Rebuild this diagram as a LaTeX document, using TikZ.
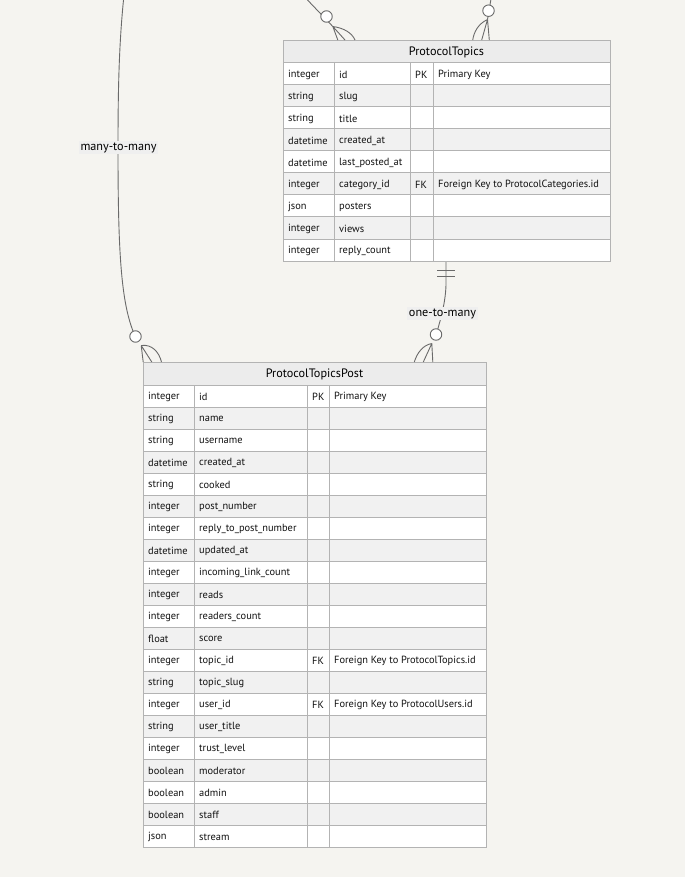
\documentclass[tikz,border=0pt]{standalone}
\usepackage{fontspec}
\setmainfont{PT Sans}
\definecolor{bg}{HTML}{F5F4F0}
\definecolor{hdr}{HTML}{ECECEC}
\definecolor{rowgray}{HTML}{F1F1F1}
\definecolor{bord}{HTML}{B3B3B3}
\definecolor{edge}{HTML}{6A6A6A}
\definecolor{lblfill}{HTML}{EFEFEF}
\definecolor{txt}{HTML}{111111}
\tikzset{
 edgeline/.style={draw=edge, line width=0.9pt},
 zcirc/.style={circle, draw=edge, fill=white, line width=0.9pt, minimum size=11.5pt, inner sep=0pt},
 cell/.style={anchor=west, inner sep=0pt, font=\fontsize{10.4}{12}\selectfont, text=txt},
 hdrtext/.style={font=\fontsize{12.2}{14}\selectfont, text=black},
 rlabel/.style={fill=lblfill, inner sep=1.5pt, font=\fontsize{12.2}{14}\selectfont, text=black},
 tbox/.style={draw=bord, line width=1pt, inner sep=0pt, anchor=north west},
}
\newcommand\ertable[3]{%
 \pgfmathsetmacro\yb{\yt+23+\nr*22}
 \fill[hdr] (\xa,\yt) rectangle (\xe,\yt+23);
 \node[hdrtext] at ({(\xa+\xe)/2},\yt+12.5) {#2};
 \foreach[count=\i] \ta/\na/\ka/\ca in {#3} {
   \pgfmathsetmacro\ya{\yt+23+(\i-1)*22}
   \ifodd\i \def\rc{white}\else\def\rc{rowgray}\fi
   \fill[\rc] (\xa,\ya) rectangle (\xe,\ya+22);
   \draw[bord, line width=1pt] (\xa,\ya) -- (\xe,\ya);
   \node[cell] at (\xa+5,\ya+12.2) {\ta};
   \node[cell] at (\xb+5,\ya+12.2) {\na};
   \node[cell] at (\xc+5,\ya+12.2) {\ka};
   \node[cell] at (\xd+5,\ya+12.2) {\ca};
 }
 \draw[bord, line width=1pt] (\xb,\yt+23) -- (\xb,\yb) (\xc,\yt+23) -- (\xc,\yb) (\xd,\yt+23) -- (\xd,\yb);
 \node[tbox, minimum width=\xe-\xa, minimum height=\yb-\yt] (#1) at (\xa,\yt) {};
}
\begin{document}
\begin{tikzpicture}[x=1pt,y=-1pt]
\fill[bg] (0,0) rectangle (685,877);
\useasboundingbox (0,0) rectangle (685,877);

% ProtocolTopics
\def\xa{283}\def\xb{334}\def\xc{410}\def\xd{433}\def\xe{610}\def\yt{40}\def\nr{9}
\ertable{pt}{ProtocolTopics}{integer/id/PK/Primary Key, string/slug/{}/{}, string/title/{}/{}, datetime/created\_at/{}/{}, datetime/last\_posted\_at/{}/{}, integer/category\_id/FK/Foreign Key to ProtocolCategories.id, json/posters/{}/{}, integer/views/{}/{}, integer/reply\_count/{}/{}}

% ProtocolTopicsPost
\def\xa{143}\def\xb{194}\def\xc{307}\def\xd{329}\def\xe{486}\def\yt{362}\def\nr{21}
\ertable{ptp}{ProtocolTopicsPost}{integer/id/PK/Primary Key, string/name/{}/{}, string/username/{}/{}, datetime/created\_at/{}/{}, string/cooked/{}/{}, integer/post\_number/{}/{}, integer/reply\_to\_post\_number/{}/{}, datetime/updated\_at/{}/{}, integer/incoming\_link\_count/{}/{}, integer/reads/{}/{}, integer/readers\_count/{}/{}, float/score/{}/{}, integer/topic\_id/FK/Foreign Key to ProtocolTopics.id, string/topic\_slug/{}/{}, integer/user\_id/FK/Foreign Key to ProtocolUsers.id, string/user\_title/{}/{}, integer/trust\_level/{}/{}, boolean/moderator/{}/{}, boolean/admin/{}/{}, boolean/staff/{}/{}, json/stream/{}/{}}

% many-to-many (from above to ProtocolTopicsPost)
\coordinate (m0) at (123.5,0);
\coordinate (mf) at (141.2,345.5);
\coordinate (mf1) at (143.2,362);
\coordinate (mf2) at (151.8,362);
\coordinate (mf3) at (161.5,362);
\draw[edgeline] (m0) .. controls (118.5,50) and (118,100) .. (118,150) .. controls (118,250) and (121,300) .. (133,331);
\draw[edgeline] (mf) -- (mf1) (mf) -- (mf2) (mf) .. controls (152,344) and (159,352) .. (mf3);
\node[zcirc] (mc) at (135.5,336.5) {};
\node[rlabel] (ml) at (118.5,147.5) {many-to-many};

% top middle connector into ProtocolTopics
\coordinate (a0) at (307.5,0);
\coordinate (af) at (332.8,26.5);
\coordinate (af1) at (337.8,40);
\coordinate (af2) at (345,40);
\coordinate (af3) at (355,40);
\draw[edgeline] (a0) -- (af);
\draw[edgeline] (af) -- (af1) (af) -- (af2) (af) .. controls (344,28) and (352,33) .. (af3);
\node[zcirc] (ac) at (326.5,16.5) {};

% top right connector into ProtocolTopics
\coordinate (b0) at (490.8,0);
\coordinate (bf) at (487.5,19.5);
\coordinate (bf1) at (472.7,40);
\coordinate (bf2) at (481.7,40);
\coordinate (bf3) at (489.3,40);
\draw[edgeline] (b0) -- (bf);
\draw[edgeline] (bf) -- (bf2) (bf) -- (bf3) (bf) .. controls (478,24) and (474,32) .. (bf1);
\node[zcirc] (bc) at (488.5,10.7) {};

% one-to-many ProtocolTopics -> ProtocolTopicsPost
\coordinate (o0) at (446,262);
\coordinate (ob) at (446,283);
\coordinate (of) at (431.8,343.5);
\coordinate (of1) at (414.3,362);
\coordinate (of2) at (423.3,362);
\coordinate (of3) at (432.8,362);
\draw[edgeline] (o0) -- (ob) .. controls (446,300) and (441,318) .. (437.5,330);
\draw[edgeline] (437.3,270.7) -- (455,270.7) (437.3,276.7) -- (455,276.7);
\draw[edgeline] (of) -- (of2) (of) -- (of3) (of) .. controls (423,345) and (417,353) .. (of1);
\node[zcirc] (oc) at (436,334.5) {};
\node[rlabel] (ol) at (442.5,313.5) {one-to-many};
\end{tikzpicture}
\end{document}
